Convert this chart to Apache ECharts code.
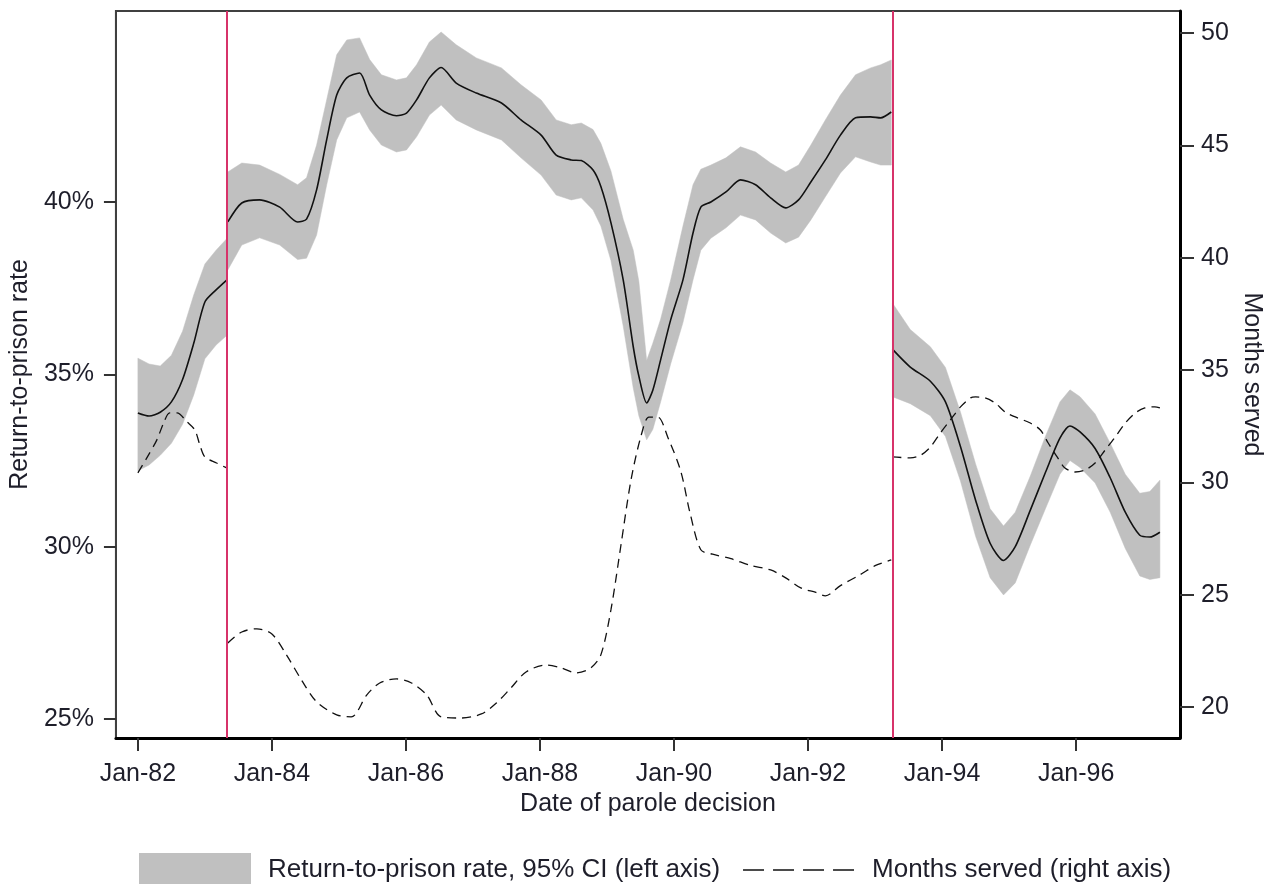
<!DOCTYPE html>
<html>
<head>
<meta charset="utf-8">
<script src="https://cdn.jsdelivr.net/npm/echarts@6/dist/echarts.min.js"></script>
<style>
  html, body { margin: 0; padding: 0; background: #fff; }
  #chart { width: 1274px; height: 884px; }
</style>
</head>
<body>
<div id="chart"></div>
<script>
// ---------- DATA (x = months since Jan 1982) ----------
const tickMonths = [0, 24, 48, 72, 96, 120, 144, 168];
const tickLabels = ['Jan-82', 'Jan-84', 'Jan-86', 'Jan-88', 'Jan-90', 'Jan-92', 'Jan-94', 'Jan-96'];
const breakMonths = [16.0, 135.1];
const leftTicks = [25, 30, 35, 40];
const rightTicks = [20, 25, 30, 35, 40, 45, 50];

// Return-to-prison rate (%) and 95% CI, segment 1
const seg1Months = [0, 2, 4, 6, 8, 10, 12, 14, 16];
const seg1Rate   = [33.88, 33.79, 33.9, 34.2, 34.85, 35.9, 37.1, 37.45, 37.75];
const seg1Upper  = [35.47, 35.3, 35.24, 35.55, 36.25, 37.3, 38.2, 38.6, 38.95];
const seg1Lower  = [32.2, 32.37, 32.65, 33.0, 33.55, 34.4, 35.45, 35.85, 36.14];

// segment 2
const seg2Months = [16.1, 18.6, 21.8, 25.4, 28.6, 30.2, 32.0, 33.8, 35.6, 37.4, 39.7, 41.5, 43.6, 46.3, 48.1, 49.9, 52.2, 54.3, 57.0, 60.6, 65.1, 68.6, 72.2, 74.9, 77.6, 79.4, 81.5, 82.9, 84.7, 86.9, 88.7, 89.7, 91.1, 92.2, 93.6, 95.4, 97.6, 99.4, 100.8, 102.6, 105.3, 107.9, 110.6, 113.3, 116.0, 118.3, 120.5, 123.1, 125.8, 128.5, 131.2, 133.0, 134.9];
const seg2Rate   = [39.42, 39.97, 40.06, 39.85, 39.42, 39.5, 40.35, 41.8, 43.1, 43.6, 43.74, 43.1, 42.67, 42.5, 42.58, 42.96, 43.6, 43.9, 43.45, 43.16, 42.87, 42.38, 41.94, 41.36, 41.22, 41.2, 40.93, 40.45, 39.4, 37.74, 35.8, 34.95, 34.17, 34.54, 35.42, 36.58, 37.74, 39.1, 39.85, 40.0, 40.29, 40.64, 40.5, 40.12, 39.83, 40.06, 40.58, 41.22, 41.94, 42.44, 42.47, 42.44, 42.61];
const seg2Upper  = [40.87, 41.13, 41.07, 40.8, 40.5, 40.7, 41.65, 42.96, 44.27, 44.7, 44.76, 44.13, 43.69, 43.54, 43.6, 43.98, 44.64, 44.93, 44.56, 44.18, 43.89, 43.4, 42.96, 42.38, 42.24, 42.29, 42.1, 41.7, 40.9, 39.5, 38.6, 37.7, 35.4, 35.9, 36.6, 37.74, 39.3, 40.5, 40.95, 41.07, 41.28, 41.6, 41.45, 41.13, 40.87, 41.07, 41.65, 42.38, 43.1, 43.69, 43.89, 43.98, 44.12];
const seg2Lower  = [38.03, 38.75, 38.96, 38.75, 38.33, 38.37, 39.04, 40.49, 41.8, 42.44, 42.61, 42.09, 41.65, 41.45, 41.51, 41.89, 42.52, 42.81, 42.38, 42.09, 41.8, 41.28, 40.78, 40.2, 40.06, 40.12, 39.77, 39.3, 38.3, 36.4, 34.6, 33.8, 33.1, 33.4, 34.2, 35.3, 36.5, 37.74, 38.6, 38.95, 39.25, 39.62, 39.48, 39.1, 38.81, 38.98, 39.48, 40.15, 40.84, 41.31, 41.16, 41.07, 41.07];

// segment 3
const seg3Months = [135.1, 138.3, 141.9, 144.6, 147.3, 150.0, 152.6, 155.0, 157.1, 159.8, 162.5, 165.1, 166.9, 168.7, 171.4, 174.1, 176.8, 179.4, 181.2, 183.0];
const seg3Rate   = [35.73, 35.21, 34.8, 34.2, 32.9, 31.35, 30.1, 29.6, 30.0, 31.06, 32.15, 33.15, 33.5, 33.33, 32.85, 32.0, 31.0, 30.33, 30.28, 30.42];
const seg3Upper  = [37.07, 36.3, 35.8, 35.2, 33.9, 32.4, 31.1, 30.6, 31.0, 32.05, 33.2, 34.2, 34.55, 34.35, 33.85, 33.0, 32.1, 31.55, 31.6, 31.93];
const seg3Lower  = [34.35, 34.15, 33.8, 33.2, 31.9, 30.3, 29.1, 28.6, 28.95, 30.05, 31.1, 32.1, 32.5, 32.3, 31.85, 31.0, 29.95, 29.15, 29.05, 29.1];

// Months served (right axis)
const served1Months = [0, 1.6, 3.4, 4.6, 5.7, 7.0, 8.8, 10.2, 11.1, 12.0, 14.1, 15.9];
const served1       = [30.42, 31.09, 31.89, 32.64, 33.09, 33.09, 32.69, 32.33, 31.66, 31.13, 30.86, 30.64];
const served2Months = [16.1, 18.6, 21.3, 24.0, 26.6, 29.3, 32.0, 35.6, 38.2, 41.0, 43.3, 46.3, 49.0, 51.7, 54.3, 57.9, 61.5, 64.2, 66.8, 69.5, 73.1, 75.8, 78.5, 81.1, 82.9, 84.7, 86.5, 88.3, 90.1, 91.5, 93.1, 94.9, 97.2, 98.9, 100.8, 102.9, 106.2, 109.7, 113.3, 116.0, 118.7, 121.4, 123.1, 125.8, 129.4, 132.1, 134.9];
const served2       = [22.85, 23.34, 23.48, 23.25, 22.32, 21.2, 20.23, 19.65, 19.56, 20.54, 21.07, 21.25, 21.07, 20.54, 19.56, 19.51, 19.69, 20.18, 20.85, 21.56, 21.87, 21.74, 21.52, 21.74, 22.32, 24.32, 27.21, 30.11, 32.07, 32.9, 32.9, 32.0, 30.5, 28.6, 27.0, 26.8, 26.6, 26.3, 26.1, 25.75, 25.3, 25.1, 24.95, 25.4, 25.9, 26.3, 26.55];
const served3Months = [135.1, 138.3, 140.1, 141.9, 143.7, 145.5, 147.3, 149.1, 150.0, 151.7, 153.5, 155.3, 157.1, 159.8, 161.6, 163.0, 164.6, 166.0, 167.8, 169.6, 171.4, 173.2, 175.0, 176.8, 178.6, 180.3, 182.1, 183.0];
const served3       = [31.13, 31.09, 31.2, 31.57, 32.2, 32.78, 33.36, 33.76, 33.8, 33.76, 33.53, 33.13, 32.91, 32.64, 32.33, 31.75, 31.13, 30.64, 30.46, 30.55, 30.86, 31.44, 32.02, 32.64, 33.09, 33.31, 33.36, 33.31];

const bandName = 'Return-to-prison rate, 95% CI (left axis)';
const servedName = 'Months served (right axis)';

// ---------- BUILD ----------
const FONT = "'Liberation Sans', Arial, sans-serif";
const TXT = '#1e1e2a';
const BAND = '#c0c0c0';
const pairs = (xs, ys) => xs.map((x, i) => [x, ys[i]]);

const series = [];
const segs = [
  [seg1Months, seg1Rate, seg1Lower, seg1Upper],
  [seg2Months, seg2Rate, seg2Lower, seg2Upper],
  [seg3Months, seg3Rate, seg3Lower, seg3Upper]
];
segs.forEach((s, k) => {
  const [m, rate, lo, up] = s;
  // confidence band: one polygon per segment, built from the data through the axes
  series.push({
    name: bandName, type: 'custom', yAxisIndex: 0, z: 1, silent: true,
    itemStyle: { color: BAND },
    encode: { x: 0, y: [1, 2] },
    data: m.map((x, i) => [x, lo[i], up[i]]),
    renderItem: function (params, api) {
      if (params.dataIndex !== 0) return null;
      const top = [], bot = [];
      for (let i = 0; i < m.length; i++) {
        top.push(api.coord([m[i], up[i]]));
        bot.push(api.coord([m[i], lo[i]]));
      }
      return {
        type: 'polygon',
        shape: { points: top.concat(bot.reverse()) },
        style: { fill: BAND, stroke: BAND, lineWidth: 0.5 }
      };
    }
  });
  series.push({
    name: 'rate-' + k, type: 'line', yAxisIndex: 0,
    data: pairs(m, rate), symbol: 'none', smooth: 0.25, z: 3,
    lineStyle: { color: '#111', width: 1.6 }, silent: true
  });
});
[[served1Months, served1], [served2Months, served2], [served3Months, served3]].forEach((s, k) => {
  const ser = {
    name: servedName, type: 'line', yAxisIndex: 1,
    data: pairs(s[0], s[1]), symbol: 'none', smooth: 0.3, z: 4,
    itemStyle: { color: '#111' },
    lineStyle: { color: '#111', width: 1.3, type: [9, 6] }, silent: true
  };
  if (k === 0) {
    ser.markLine = {
      silent: true, symbol: 'none', label: { show: false },
      lineStyle: { color: '#d7336a', width: 2, type: 'solid' },
      data: breakMonths.map(b => ({ xAxis: b }))
    };
  }
  series.push(ser);
});

const chart = echarts.init(document.getElementById('chart'), null, { renderer: 'canvas' });
chart.setOption({
  animation: false,
  backgroundColor: '#fff',
  textStyle: { fontFamily: FONT },
  grid: { left: 114, right: 94, top: 11, bottom: 146, show: true, borderColor: '#404040', borderWidth: 2, backgroundColor: '#fff' },
  xAxis: {
    type: 'value', min: -3.93, max: 186.6,
    name: 'Date of parole decision', nameLocation: 'middle', nameGap: 47,
    nameTextStyle: { fontSize: 25, color: TXT, fontFamily: FONT },
    axisLine: { show: true, onZero: false, lineStyle: { color: '#000', width: 3 } },
    axisTick: { show: true, length: 13, customValues: tickMonths, lineStyle: { color: '#333', width: 2 } },
    axisLabel: {
      customValues: tickMonths, fontSize: 25, color: TXT, margin: 24, fontFamily: FONT,
      formatter: v => tickLabels[tickMonths.indexOf(Math.round(v))] || ''
    },
    splitLine: { show: false }
  },
  yAxis: [
    {
      type: 'value', position: 'left', min: 24.45, max: 45.54,
      name: 'Return-to-prison rate', nameLocation: 'middle', nameRotate: 90, nameGap: 65,
      nameTextStyle: { fontSize: 25, color: TXT, fontFamily: FONT },
      axisLine: { show: true, onZero: false, lineStyle: { color: '#404040', width: 2 } },
      axisTick: { show: true, length: 12, customValues: leftTicks, lineStyle: { color: '#333', width: 2 } },
      axisLabel: { customValues: leftTicks, fontSize: 25, color: TXT, margin: 22, fontFamily: FONT, formatter: v => v + '%' },
      splitLine: { show: false }
    },
    {
      type: 'value', position: 'right', min: 18.62, max: 50.98,
      name: 'Months served', nameLocation: 'middle', nameRotate: -90, nameGap: 48,
      nameTextStyle: { fontSize: 25, color: TXT, fontFamily: FONT },
      axisLine: { show: true, onZero: false, lineStyle: { color: '#000', width: 3 } },
      axisTick: { show: true, length: 14, customValues: rightTicks, lineStyle: { color: '#333', width: 2 } },
      axisLabel: { customValues: rightTicks, fontSize: 25, color: TXT, margin: 21, fontFamily: FONT },
      splitLine: { show: false }
    }
  ],
  legend: {
    top: 848, left: 134, orient: 'horizontal',
    itemWidth: 112, itemHeight: 34, itemGap: 22,
    selectedMode: false,
    textStyle: { fontSize: 26, color: TXT, fontFamily: FONT, padding: [0, 0, 0, 12] },
    data: [
      { name: bandName, icon: 'rect', itemStyle: { color: BAND, borderWidth: 0 } },
      { name: servedName, itemStyle: { color: 'rgba(0,0,0,0)', borderWidth: 0 },
        lineStyle: { color: '#111', width: 1.5, type: [21, 9] } }
    ]
  },
  series: series
});
</script>
</body>
</html>
